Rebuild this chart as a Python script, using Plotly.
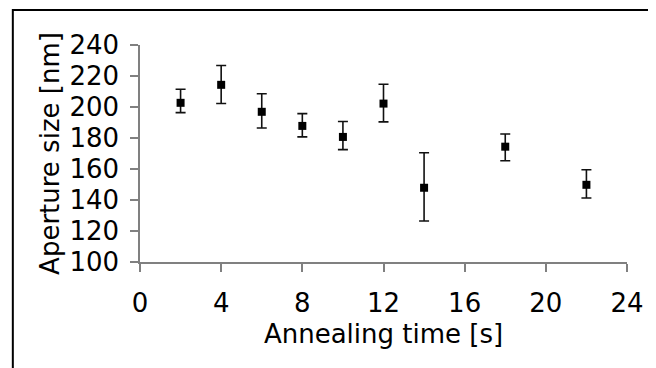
import plotly.graph_objects as go

time_s = [2, 4, 6, 8, 10, 12, 14, 18, 22]
size_nm = [202.7, 214.3, 196.9, 187.8, 180.7, 202.2, 147.9, 174.4, 149.8]
err_plus = [8.8, 12.5, 11.6, 7.9, 9.9, 12.5, 22.6, 8.2, 9.7]
err_minus = [6.3, 12.0, 10.4, 7.1, 8.2, 11.8, 21.4, 9.1, 8.5]

x_ticks = [0, 4, 8, 12, 16, 20, 24]
y_ticks = [100, 120, 140, 160, 180, 200, 220, 240]

FONT = "DejaVu Sans"
FS = 26

fig = go.Figure()
fig.add_trace(go.Scatter(
    x=time_s, y=size_nm, mode="markers",
    marker=dict(symbol="square", size=8, color="black"),
    error_y=dict(type="data", symmetric=False, array=err_plus, arrayminus=err_minus,
                 color="#111111", thickness=1.6, width=5),
    showlegend=False,
))

# page body has an 8px margin, so the figure is drawn 8px in from the window edge
W, H = 648, 360
L, R, T, B = 132, 22, 37, 106
pw, ph = W - L - R, H - T - B

fig.update_layout(
    width=W, height=H,
    margin=dict(l=L, r=R, t=T, b=B),
    paper_bgcolor="white", plot_bgcolor="white",
    font=dict(family=FONT, size=FS, color="black"),
    xaxis=dict(range=[0, 24], tickvals=x_ticks, showgrid=False, zeroline=False,
               showline=True, linecolor="#808080", linewidth=1.5,
               ticks="outside", ticklen=8, tickcolor="#808080", tickwidth=1.5,
               ticklabelstandoff=9,
               title=dict(text="Annealing time [s]", standoff=8,
                          font=dict(family=FONT, size=FS))),
    yaxis=dict(range=[100, 240], tickvals=y_ticks, showgrid=False, zeroline=False,
               showline=True, linecolor="#808080", linewidth=1.5,
               ticks="outside", ticklen=8, tickcolor="#808080", tickwidth=1.5,
               ticklabelstandoff=6,
               title=dict(text="Aperture size [nm]", standoff=2,
                          font=dict(family=FONT, size=FS))),
    shapes=[dict(type="rect", xref="paper", yref="paper",
                 x0=(3 - L) / pw, x1=(W + 20 - L) / pw,
                 y0=1 - (H + 20 - T) / ph, y1=1 + (T - 2) / ph,
                 line=dict(color="black", width=2), fillcolor="rgba(0,0,0,0)",
                 layer="below")],
)

fig.write_html("out.html")
